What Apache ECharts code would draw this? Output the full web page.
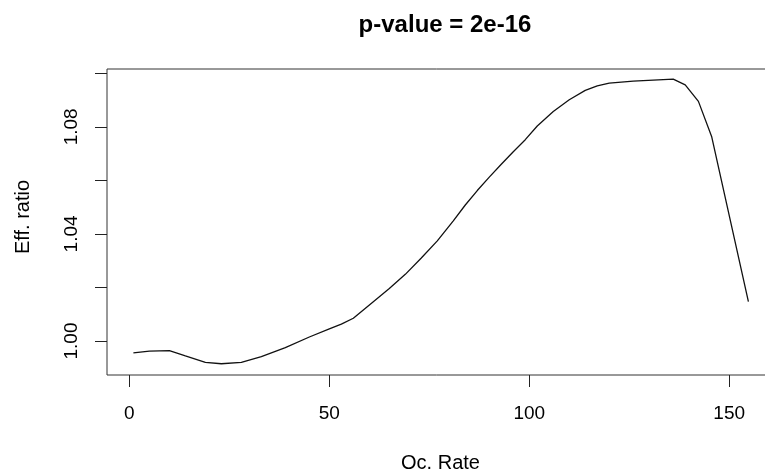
<!DOCTYPE html>
<html>
<head>
<meta charset="utf-8">
<script src="https://cdn.jsdelivr.net/npm/echarts@6/dist/echarts.min.js"></script>
<style>
  html, body { margin: 0; padding: 0; background: #fff; }
  #chart { width: 765px; height: 476px; }
</style>
</head>
<body>
<div id="chart"></div>
<script>
// Smoothed efficiency ratio against occupancy rate
const occRate = [1, 5, 10, 14, 19, 23, 28, 33, 39, 45, 50, 53, 56, 61, 65, 69, 73, 77, 81, 84, 87, 90, 93, 96, 99, 102, 106, 110, 114, 117, 120, 126, 136, 139, 142.3, 145.6, 154.8];
const effRatio = [0.9956, 0.9962, 0.99637, 0.9944, 0.9920, 0.9915, 0.99205, 0.9942, 0.9975, 1.0015, 1.0045, 1.0063, 1.0085, 1.0147, 1.0196, 1.0249, 1.0310, 1.0374, 1.0449, 1.0508, 1.0562, 1.0612, 1.0660, 1.0707, 1.0752, 1.0803, 1.0857, 1.0901, 1.0936, 1.0953, 1.0963, 1.0971, 1.0978, 1.0957, 1.0895, 1.0764, 1.0147];

const xTicks = [0, 50, 100, 150];
const yTicks = [1.00, 1.02, 1.04, 1.06, 1.08, 1.10];
const yLabels = [1.00, 1.04, 1.08];

const titleText = 'p-value = 2e-16';
const xName = 'Oc. Rate';
const yName = 'Eff. ratio';

const font = 'Liberation Sans, Arial, Helvetica, sans-serif';
const chart = echarts.init(document.getElementById('chart'), null, { renderer: 'canvas' });

chart.setOption({
  animation: false,
  backgroundColor: '#fff',
  title: {
    text: titleText,
    left: 440,
    textAlign: 'center',
    top: 8,
    textStyle: { fontFamily: font, fontSize: 24, fontWeight: 'bold', color: '#000' }
  },
  grid: {
    left: 107,
    top: 69,
    width: 667,
    height: 306,
    outerBoundsMode: 'none',
    containLabel: false,
    show: true,
    borderColor: '#333',
    borderWidth: 1,
    backgroundColor: 'transparent'
  },
  xAxis: {
    type: 'value',
    min: -5.6,
    max: 161.2,
    name: xName,
    nameLocation: 'middle',
    nameGap: 78,
    nameTextStyle: { fontFamily: font, fontSize: 20, color: '#000' },
    axisLine: { show: false, onZero: false },
    axisTick: { show: true, length: 12, customValues: xTicks, lineStyle: { color: '#222' } },
    axisLabel: {
      customValues: xTicks,
      margin: 29,
      fontFamily: font, fontSize: 19, color: '#000',
      formatter: v => String(v)
    },
    splitLine: { show: false }
  },
  yAxis: {
    type: 'value',
    min: 0.98730,
    max: 1.10160,
    name: yName,
    nameLocation: 'middle',
    nameGap: 74,
    nameRotate: 90,
    nameTextStyle: { fontFamily: font, fontSize: 20, color: '#000', padding: [0, 0, 0, 10] },
    axisLine: { show: false, onZero: false },
    axisTick: { show: true, length: 12, customValues: yTicks, lineStyle: { color: '#222' } },
    axisLabel: {
      customValues: yLabels,
      rotate: 90,
      margin: 26,
      fontFamily: font, fontSize: 19, color: '#000',
      formatter: v => v.toFixed(2)
    },
    splitLine: { show: false }
  },
  series: [{
    type: 'line',
    data: occRate.map((x, i) => [x, effRatio[i]]),
    showSymbol: false,
    smooth: false,
    lineStyle: { color: '#111', width: 1.3 }
  }]
});
</script>
</body>
</html>
